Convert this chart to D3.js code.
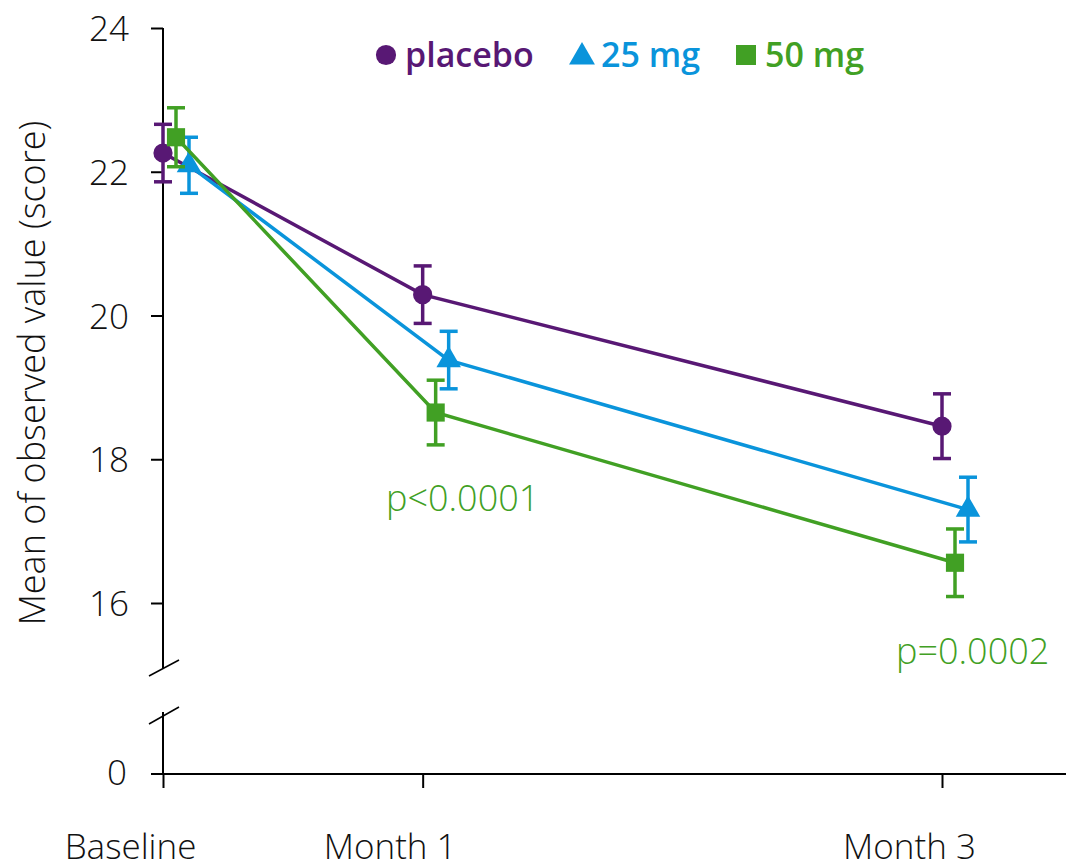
<!DOCTYPE html>
<html>
<head>
<meta charset="utf-8">
<script src="https://cdn.jsdelivr.net/npm/d3@7"></script>
<style>
  body { margin: 0; background: #fff; }
  svg { display: block; }
  svg text { font-family: "Open Sans", "Noto Sans", sans-serif; }
</style>
</head>
<body>
<div id="chart"></div>
<script>
// visits, as months since baseline
var visits = ["Baseline", "Month 1", "Month 3"];
var visitMonth = [0, 1, 3];
var groups = ["placebo", "25 mg", "50 mg"];

// mean and error bar half-width per visit
var placeboMean = [22.26, 20.29, 18.46];
var placeboErr = [0.40, 0.40, 0.45];
var mg25Mean = [22.09, 19.38, 17.30];
var mg25Err = [0.39, 0.40, 0.45];
var mg50Mean = [22.48, 18.65, 16.56];
var mg50Err = [0.41, 0.45, 0.47];

var yTicks = [16, 18, 20, 22, 24];
var pLabels = ["p<0.0001", "p=0.0002"];

var w = 1066, h = 868;
var colors = ["#581874", "#0a94db", "#41a024"];
var shapes = [d3.symbolCircle, d3.symbolTriangle, d3.symbolSquare];
var offsets = [0, 26, 13];   // small horizontal dodge per group

var svg = d3.select("#chart").append("svg")
    .attr("width", w).attr("height", h);

var x = d3.scaleLinear().domain([0, 3]).range([163, 942]);
var y = d3.scaleLinear().domain([16, 24]).range([603, 28]);
var y0 = d3.scaleLinear().domain([0, 0.83]).range([774, 714]);

function styleTicks(g, size) {
  g.attr("font-family", null);
  g.selectAll("text").attr("font-size", size).attr("font-weight", 300).attr("fill", "#111");
}

// upper y axis (broken)
var yAxis = svg.append("g").attr("transform", "translate(163,0)")
    .call(d3.axisLeft(y).tickValues(yTicks).tickSize(12).tickPadding(22));
yAxis.select(".domain").remove();
yAxis.selectAll(".tick line").attr("stroke", "#000").attr("stroke-width", 2);
styleTicks(yAxis, 35);
yAxis.selectAll("text").attr("dy", "0.36em");
svg.append("line").attr("x1", 163).attr("x2", 163)
    .attr("y1", y(24)).attr("y2", 668).attr("stroke", "#000").attr("stroke-width", 2);

// lower y axis piece with 0
var yAxis0 = svg.append("g").attr("transform", "translate(163,0)")
    .call(d3.axisLeft(y0).tickValues([0]).tickFormat(d3.format("d")).tickSize(12).tickPadding(24));
yAxis0.select(".domain").remove();
yAxis0.selectAll(".tick line").remove();
styleTicks(yAxis0, 35);
yAxis0.selectAll("text").attr("dy", "0.3em");
svg.append("line").attr("x1", 163).attr("x2", 163)
    .attr("y1", 712).attr("y2", 774).attr("stroke", "#000").attr("stroke-width", 2);

// break marks
[[676, 660], [724, 707]].forEach(function(b) {
  svg.append("line").attr("x1", 149).attr("y1", b[0]).attr("x2", 179).attr("y2", b[1])
     .attr("stroke", "#000").attr("stroke-width", 1.5);
});

// x axis
var xAxis = svg.append("g").attr("transform", "translate(0,774)")
    .call(d3.axisBottom(x).tickValues(visitMonth).tickSize(14).tickPadding(46)
      .tickFormat(function(d, i) { return visits[i]; }));
xAxis.select(".domain").remove();
xAxis.selectAll(".tick line").attr("stroke", "#000").attr("stroke-width", 2);
styleTicks(xAxis, 35);
xAxis.selectAll("text").attr("dx", -33);
svg.append("line").attr("x1", 151).attr("x2", w)
    .attr("y1", 774).attr("y2", 774).attr("stroke", "#000").attr("stroke-width", 2);

// y title
svg.append("text")
    .attr("transform", "translate(45,373) rotate(-90)")
    .attr("text-anchor", "middle")
    .attr("font-size", 36).attr("font-weight", 300).attr("fill", "#111")
    .text("Mean of observed value (score)");

var series = [
  { means: placeboMean, errs: placeboErr },
  { means: mg25Mean, errs: mg25Err },
  { means: mg50Mean, errs: mg50Err }
];

series.forEach(function(s, gi) {
  var pts = visitMonth.map(function(m, i) {
    return { x: x(m) + offsets[gi], m: s.means[i], e: s.errs[i] };
  });
  var g = svg.append("g");
  g.append("path").datum(pts)
    .attr("fill", "none").attr("stroke", colors[gi]).attr("stroke-width", 3.5)
    .attr("d", d3.line().x(function(d) { return d.x; }).y(function(d) { return y(d.m); }));
  pts.forEach(function(d) {
    g.append("line").attr("x1", d.x).attr("x2", d.x)
      .attr("y1", y(d.m + d.e)).attr("y2", y(d.m - d.e))
      .attr("stroke", colors[gi]).attr("stroke-width", 3.5);
    [d.m + d.e, d.m - d.e].forEach(function(v) {
      g.append("line").attr("x1", d.x - 9).attr("x2", d.x + 9)
        .attr("y1", y(v)).attr("y2", y(v))
        .attr("stroke", colors[gi]).attr("stroke-width", 3.5);
    });
  });
  g.selectAll(".pt").data(pts).enter().append("path")
    .attr("transform", function(d) { return "translate(" + d.x + "," + y(d.m) + ")"; })
    .attr("d", d3.symbol().type(shapes[gi]).size(gi == 1 ? 260 : (gi == 0 ? 290 : 330)))
    .attr("fill", colors[gi]);
});

// p-values for 50 mg
svg.append("text").attr("x", 386).attr("y", 511)
  .attr("font-size", 36).attr("font-weight", 300).attr("fill", colors[2]).text(pLabels[0]);
svg.append("text").attr("x", 896).attr("y", 664)
  .attr("font-size", 36).attr("font-weight", 300).attr("fill", colors[2]).text(pLabels[1]);

// legend
var legX = [386, 582, 746];
groups.forEach(function(name, gi) {
  svg.append("path")
    .attr("transform", "translate(" + legX[gi] + "," + (gi == 1 ? 57 : 55) + ")")
    .attr("d", d3.symbol().type(shapes[gi]).size(gi == 1 ? 290 : (gi == 0 ? 320 : 400)))
    .attr("fill", colors[gi]);
  svg.append("text").attr("x", legX[gi] + 19).attr("y", 67)
    .attr("font-size", 34).attr("font-weight", 600).attr("fill", colors[gi])
    .text(name);
});
</script>
</body>
</html>
